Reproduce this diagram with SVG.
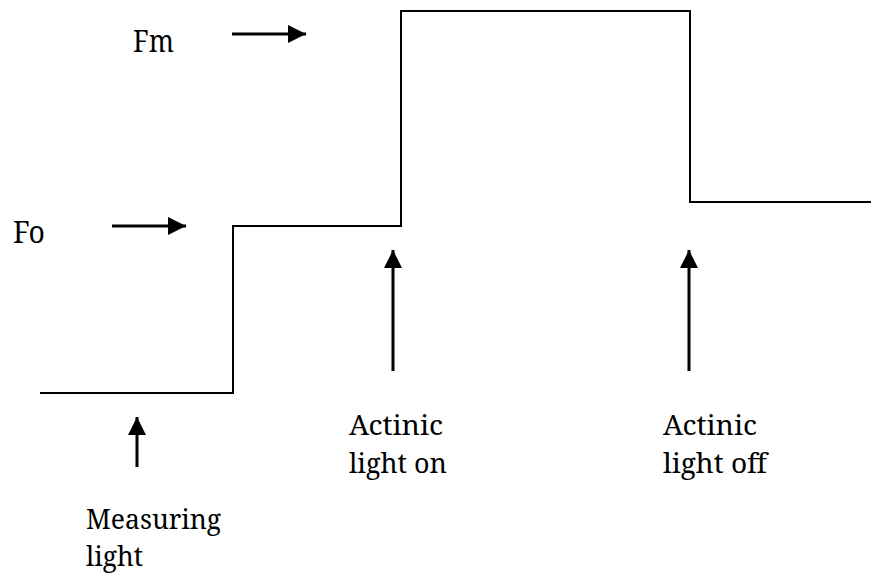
<svg xmlns="http://www.w3.org/2000/svg" width="871" height="575" viewBox="0 0 871 575">
<style>
text{font-family:'Noto Serif','DejaVu Serif',serif;font-size:30px;fill:#000}
.m{font-size:27px}
.s{fill:none;stroke:#000;stroke-width:2}
.a{fill:none;stroke:#000;stroke-width:3}
</style>
<defs>
<marker id="ah" markerUnits="userSpaceOnUse" markerWidth="20" markerHeight="20" refX="18" refY="9" orient="auto">
<path d="M0,0 L18,9 L0,18 Z" fill="#000"/>
</marker>
</defs>
<g id="trace">
<path class="s" d="M40,393 H233 V226 H401 V11 H690 V202 H871"/>
</g>
<g id="connectors">
<line class="a" x1="232" y1="34" x2="306" y2="34" marker-end="url(#ah)"/>
<line class="a" x1="112" y1="226" x2="186" y2="226" marker-end="url(#ah)"/>
<line class="a" x1="393" y1="371" x2="393" y2="250" marker-end="url(#ah)"/>
<line class="a" x1="689" y1="371" x2="689" y2="250" marker-end="url(#ah)"/>
<line class="a" x1="137" y1="467" x2="137" y2="417" marker-end="url(#ah)"/>
</g>
<g id="fm"><text x="133" y="52" textLength="41" lengthAdjust="spacingAndGlyphs">Fm</text></g>
<g id="fo"><text x="13" y="243" textLength="32" lengthAdjust="spacingAndGlyphs">Fo</text></g>
<g id="measuring"><text class="m"><tspan x="86" y="529" textLength="135" lengthAdjust="spacingAndGlyphs">Measuring</tspan><tspan x="86" y="566" textLength="57" lengthAdjust="spacingAndGlyphs">light</tspan></text></g>
<g id="actinic-on"><text class="m"><tspan x="349" y="435" textLength="94" lengthAdjust="spacingAndGlyphs">Actinic</tspan><tspan x="349" y="473" textLength="98" lengthAdjust="spacingAndGlyphs">light on</tspan></text></g>
<g id="actinic-off"><text class="m"><tspan x="663" y="435" textLength="94" lengthAdjust="spacingAndGlyphs">Actinic</tspan><tspan x="663" y="473" textLength="104" lengthAdjust="spacingAndGlyphs">light off</tspan></text></g>
</svg>
